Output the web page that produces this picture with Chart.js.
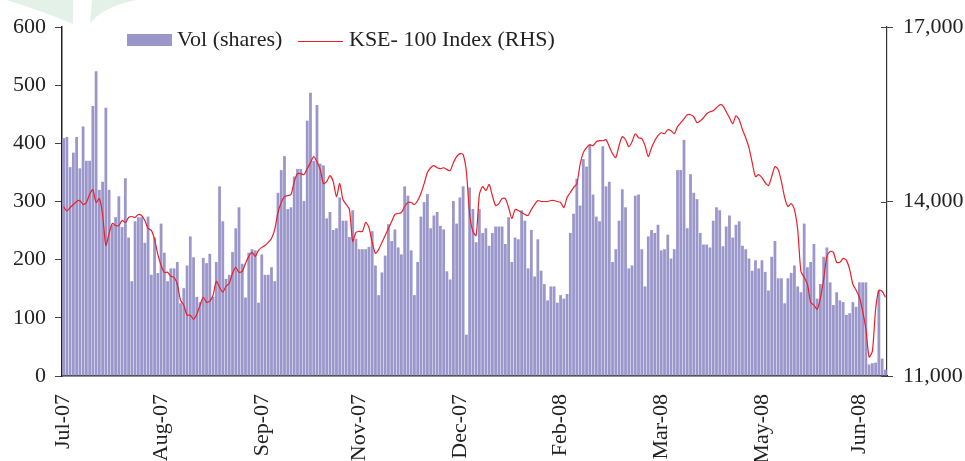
<!DOCTYPE html>
<html>
<head>
<meta charset="utf-8">
<script src="https://cdn.jsdelivr.net/npm/chart.js@4.4.1/dist/chart.umd.min.js"></script>
<style>
  html, body { margin: 0; padding: 0; background: #fff; }
  #chart { display: block; }
</style>
</head>
<body>
<canvas id="chart" width="965" height="461"></canvas>
<script>
// daily traded volume (mn shares)
const volShares = [
  409, 411, 359, 384, 411, 357, 429, 370, 370, 464,
  524, 320, 334, 461, 320, 260, 273, 309, 256, 340,
  238, 163, 266, 273, 273, 229, 274, 174, 238, 177,
  262, 212, 163, 185, 185, 196, 125, 151, 190, 240,
  204, 136, 127, 203, 194, 210, 136, 196, 326, 266,
  167, 174, 213,
  254, 290, 193, 135, 212, 218, 216, 126, 209, 174,
  174, 187, 163, 315, 354, 378, 287, 290, 343, 356,
  356, 301, 439, 487, 370, 466, 365, 362, 271, 282,
  251, 254, 307, 267, 267, 239, 285, 236, 218, 218,
  218, 222, 249, 190, 139, 178, 207, 261, 232, 252,
  221, 209, 326, 310, 216, 139, 196, 274, 299, 313,
  254, 276, 282, 258, 252, 180, 166, 301, 262, 307,
  326, 71, 324, 287, 230, 287, 246, 254, 224, 246,
  257, 257, 257, 227, 273, 196, 238, 235, 285, 267,
  185, 251, 171, 235, 181, 158, 130, 154, 154, 126,
  139,
  133, 141, 246, 279, 339, 293, 373, 360, 397, 312,
  274, 266, 395, 326, 334, 196, 218, 267, 321, 290,
  185, 190, 310, 312, 218, 154, 240, 251, 246, 260,
  216, 218, 243, 202, 218, 354, 354, 406, 254, 347,
  315, 304, 246, 226, 226, 221, 267, 290, 285, 223,
  257,
  276, 238, 260, 266, 224, 218, 202, 181, 199, 185,
  199, 179, 147, 205, 232, 168, 168, 125, 168, 177,
  190, 154, 144, 262, 187, 196, 227, 133, 158, 205,
  221, 161, 122, 144, 130, 127, 105, 108, 127, 119,
  161, 161, 161, 20, 22, 23, 147, 30, 11
];

// KSE-100 closing level, same days
const kseIndex = [
  13914, 13837, 13897, 13948, 14000, 14017, 13948, 13983, 14120, 14205,
  13983, 14051, 13777, 13245, 13451, 13622, 13588, 13588, 13674, 13640,
  13725, 13742, 13725, 13777, 13760, 13674, 13537, 13503, 13348, 13091,
  12903, 12783, 12783, 12714, 12697, 12577, 12303, 12217, 12046, 12046,
  11977, 12063, 12217, 12354, 12269, 12286, 12388, 12628, 12526, 12440,
  12543, 12594, 12766, 12868, 12783, 12800, 12937, 13057, 13125, 13057,
  13160, 13211, 13245, 13297, 13365, 13520, 13811, 13982, 14085, 14102,
  14120, 14342, 14479, 14479, 14462, 14565, 14668, 14771, 14685, 14548,
  14308, 14342, 14445, 14342, 14085, 14308, 14034, 13948, 13862, 13314,
  13468, 13485, 13485, 13640, 13554, 13297, 13108, 13177, 13297, 13417,
  13537, 13657, 13777, 13794, 13811, 13914, 13983, 13983, 13948, 14017,
  14137, 14308, 14497, 14580, 14617, 14580, 14565, 14580, 14548, 14531,
  14668, 14771, 14823, 14805, 14514, 13777, 13485, 13417, 14120, 14257,
  14188, 14291, 14102, 13931, 13965, 14051, 14051, 13897, 13708, 13862,
  13845, 13811, 13777, 13760, 13862, 13948, 14017, 14000, 14000, 14000,
  14017, 14017, 14000, 13983, 13897, 14068, 14154, 14240, 14308, 14634,
  14840, 14925, 14977, 14960, 15028, 15045, 15045, 15062, 14943, 14823,
  14754, 14960, 15114, 15062, 14943, 15028, 15165, 15097, 15080, 14960,
  14771, 14925, 15045, 15131, 15182, 15165, 15234, 15217, 15165, 15285,
  15354, 15422, 15491, 15491, 15457, 15354, 15388, 15440, 15508, 15542,
  15560, 15611, 15662, 15645, 15542, 15440, 15337, 15474, 15405, 15234,
  15097, 14925, 14668, 14428, 14462, 14411, 14325, 14274, 14428, 14600,
  14548, 14342, 14068, 13914, 13965, 13862, 13520, 12800, 12697, 12577,
  12269, 12217, 12148, 12337, 12663, 13057, 13142, 13125, 12954, 12954,
  13022, 12988, 12834, 12577, 12474, 12354, 12114, 11806, 11326, 11428,
  12148, 12474, 12457, 12354
];

const tickNames = ['Jul-07', 'Aug-07', 'Sep-07', 'Nov-07', 'Dec-07', 'Feb-08', 'Mar-08', 'May-08', 'Jun-08'];
const tickIdx = [0, 30, 61, 91, 122, 153, 184, 215, 245];

const labels = volShares.map((v, i) => {
  const k = tickIdx.indexOf(i);
  return k >= 0 ? tickNames[k] : '';
});

const barColor = '#9c97cb';
const lineColor = '#e8202a';
const textColor = '#222';
const font = { family: '"Liberation Serif", "Times New Roman", serif', size: 22 };

const extras = {
  id: 'extras',
  beforeDraw(chart) {
    // pale green leaves of the page design, top left
    const c = chart.ctx;
    c.save();
    c.fillStyle = '#e3f1e8';
    c.beginPath();
    c.moveTo(6, 0);
    c.lineTo(73, 0);
    c.lineTo(73, 24);
    c.quadraticCurveTo(40, 10, 6, 0);
    c.fill();
    c.beginPath();
    c.moveTo(90, 24);
    c.quadraticCurveTo(100, 8, 136, 0);
    c.lineTo(92, 0);
    c.closePath();
    c.fill();
    c.restore();
  },
  afterDraw(chart) {
    const c = chart.ctx;
    const ds = chart.data.datasets;
    c.save();
    // legend
    c.font = '22px "Liberation Serif", serif';
    c.fillStyle = barColor;
    c.fillRect(127, 34, 45, 12);
    c.fillStyle = textColor;
    c.textBaseline = 'alphabetic';
    c.fillText(ds[0].label, 177, 46);
    c.strokeStyle = lineColor;
    c.lineWidth = 1;
    c.beginPath();
    c.moveTo(298, 41.5);
    c.lineTo(343, 41.5);
    c.stroke();
    c.fillText(ds[1].label, 349, 46);
    // inner half of right axis ticks
    const y1 = chart.scales.y1;
    c.strokeStyle = '#444';
    y1.ticks.forEach(t => {
      const y = Math.round(y1.getPixelForValue(t.value)) + 0.5;
      c.beginPath();
      c.moveTo(y1.left - 6, y);
      c.lineTo(y1.left, y);
      c.stroke();
    });
    c.restore();
  }
};

new Chart(document.getElementById('chart'), {
  data: {
    labels: labels,
    datasets: [
      {
        type: 'bar',
        label: 'Vol (shares)',
        data: volShares,
        backgroundColor: barColor,
        barPercentage: 0.86,
        categoryPercentage: 1.0,
        yAxisID: 'y',
        order: 2
      },
      {
        type: 'line',
        label: 'KSE- 100 Index (RHS)',
        data: kseIndex,
        borderColor: lineColor,
        borderWidth: 1.2,
        pointRadius: 0,
        tension: 0.25,
        yAxisID: 'y1',
        order: 1
      }
    ]
  },
  options: {
    responsive: false,
    animation: false,
    devicePixelRatio: 1,
    layout: { padding: { top: 27, right: 0, left: 0, bottom: 0 } },
    plugins: {
      legend: { display: false },
      tooltip: { enabled: false }
    },
    scales: {
      x: {
        grid: { display: false, drawTicks: false },
        border: { display: true, color: '#222', width: 1.5 },
        ticks: {
          autoSkip: false,
          minRotation: 90,
          maxRotation: 90,
          padding: 18,
          color: textColor,
          font: font
        },
        afterFit(s) { s.height = 85; }
      },
      y: {
        position: 'left',
        min: 0,
        max: 600,
        ticks: { stepSize: 100, padding: 9, color: textColor, font: font },
        grid: { drawOnChartArea: false, drawTicks: true, tickLength: 7, color: '#444' },
        border: { display: true, color: '#222', width: 1.5 },
        afterFit(s) { s.width = 62; }
      },
      y1: {
        position: 'right',
        min: 11000,
        max: 17000,
        ticks: {
          stepSize: 3000,
          padding: 10,
          color: textColor,
          font: font,
          callback: v => v.toLocaleString('en-US')
        },
        grid: { drawOnChartArea: false, drawTicks: true, tickLength: 6, color: '#444' },
        border: { display: true, color: '#333', width: 1.2 },
        afterFit(s) { s.width = 78; }
      }
    }
  },
  plugins: [extras]
});
</script>
</body>
</html>
